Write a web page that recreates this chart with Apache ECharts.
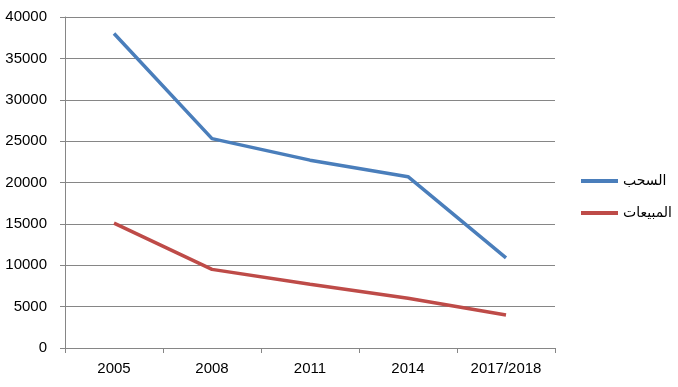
<!DOCTYPE html>
<html>
<head>
<meta charset="utf-8">
<script src="https://cdn.jsdelivr.net/npm/echarts@6/dist/echarts.min.js"></script>
<style>
  html, body { margin: 0; padding: 0; background: #fff; }
  #chart { width: 678px; height: 387px; }
</style>
</head>
<body>
<div id="chart"></div>
<script>
const years = ["2005", "2008", "2011", "2014", "2017/2018"];
const withdrawals = [38000, 25300, 22700, 20700, 10900]; // السحب
const sales = [15100, 9500, 7700, 6000, 4000]; // المبيعات

const chart = echarts.init(document.getElementById("chart"));
const option = {
  animation: false,
  textStyle: { fontFamily: "Liberation Sans, DejaVu Sans, sans-serif" },
  grid: { left: 65, right: 123, top: 17, bottom: 39 },
  legend: {
    orient: "vertical",
    left: 576,
    top: 169,
    itemWidth: 37,
    itemHeight: 4,
    itemGap: 18,
    icon: "rect",
    textStyle: { fontSize: 14, color: "#000", fontFamily: "DejaVu Sans" },
    data: ["السحب", "المبيعات"],
  },
  xAxis: {
    type: "category",
    data: years,
    boundaryGap: true,
    axisLine: { lineStyle: { color: "#868686", width: 1 } },
    axisTick: { show: true, length: 5, lineStyle: { color: "#868686" } },
    axisLabel: { color: "#000", fontSize: 15, margin: 13 },
  },
  yAxis: {
    type: "value",
    min: 0,
    max: 40000,
    interval: 5000,
    axisLine: { show: true, lineStyle: { color: "#868686", width: 1 } },
    axisTick: { show: true, length: 5, lineStyle: { color: "#868686" } },
    axisLabel: { color: "#000", fontSize: 15, margin: 18, formatter: (v) => String(v) },
    splitLine: { lineStyle: { color: "#868686", width: 1 } },
  },
  series: [
    {
      name: "السحب",
      type: "line",
      data: withdrawals,
      symbol: "none",
      lineStyle: { color: "#4a7ebb", width: 3.5 },
      itemStyle: { color: "#4a7ebb" },
    },
    {
      name: "المبيعات",
      type: "line",
      data: sales,
      symbol: "none",
      lineStyle: { color: "#be4b48", width: 3.5 },
      itemStyle: { color: "#be4b48" },
    },
  ],
};
chart.setOption(option);
</script>
</body>
</html>
